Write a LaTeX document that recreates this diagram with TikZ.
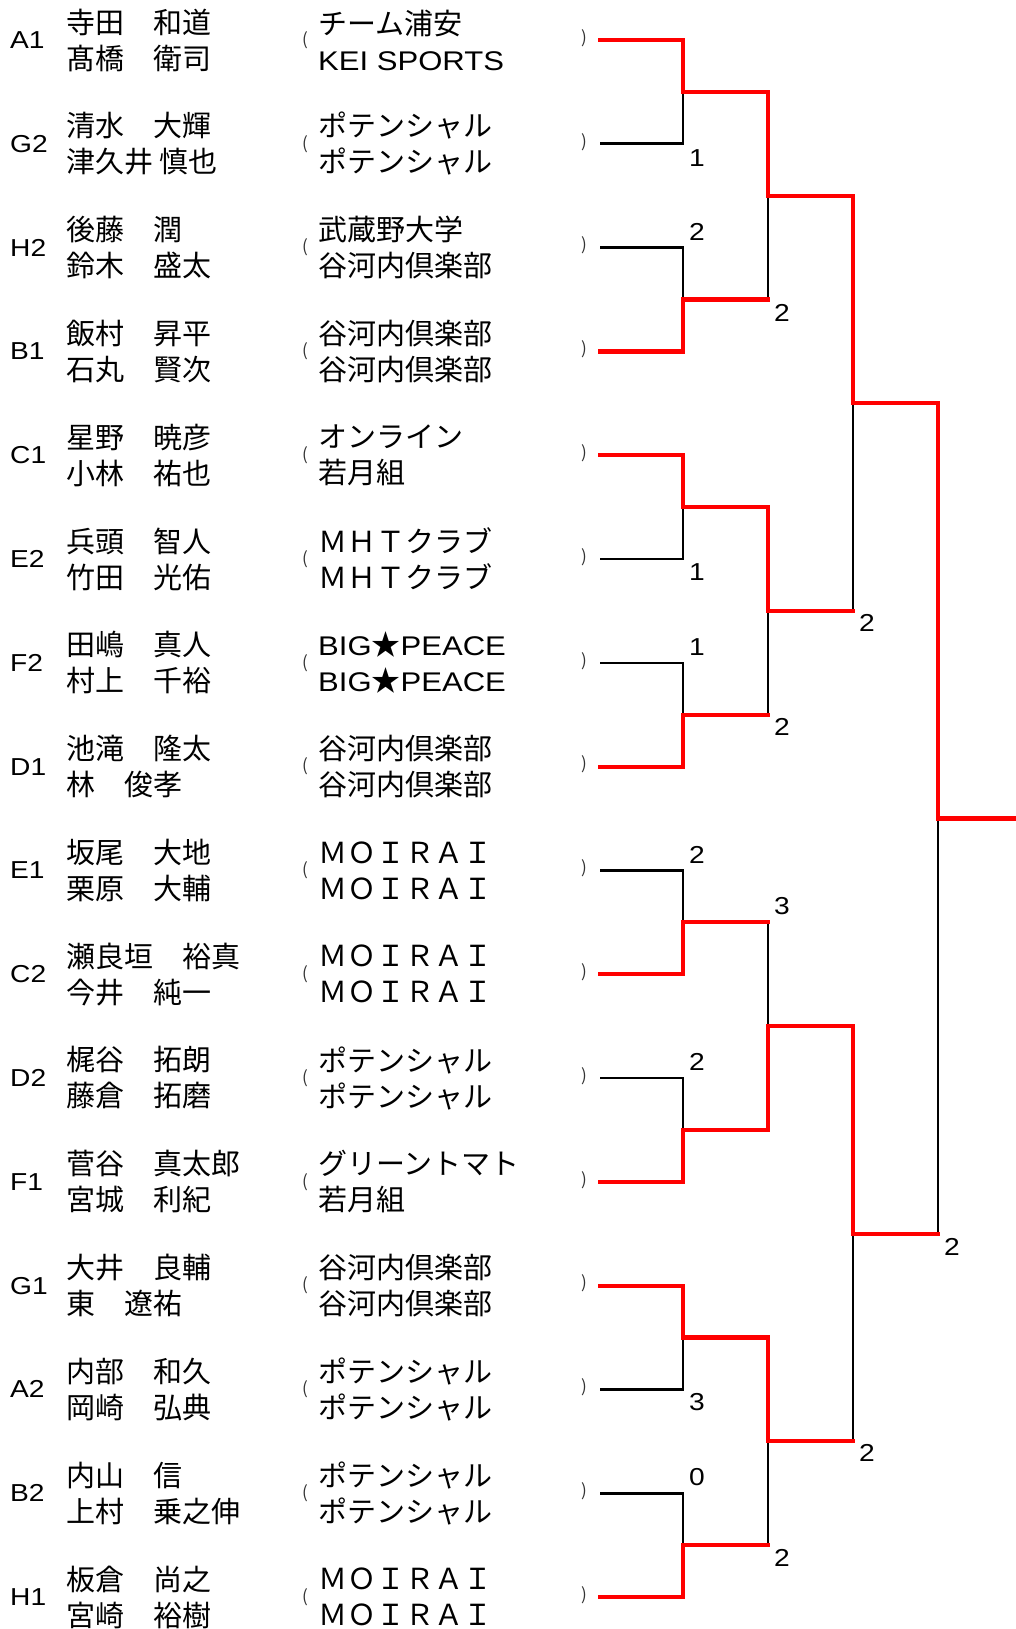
\documentclass[tikz,border=0pt]{standalone}
\usepackage{fontspec}
\setmainfont{Noto Sans CJK JP}
\newfontfamily\latin{Liberation Sans}[FakeStretch=1.15]
\usetikzlibrary{positioning}
\tikzset{
    seed/.style={anchor=west,inner sep=0pt,font=\latin\fontsize{24.5}{30}\selectfont},
    pair/.style={anchor=west,inner sep=0pt,align=left,font=\fontsize{29}{36}\selectfont},
    paren/.style={inner sep=0pt,font=\fontsize{17}{20}\selectfont,text=black!80},
    score/.style={inner sep=0pt,font=\latin\fontsize{24.5}{28}\selectfont},
    lost/.style={draw=black,line width=2.6pt},
    won/.style={draw=red,line width=4.2pt,line cap=rect},
  }
\newcommand{\lat}[1]{{\latin\fontsize{27}{36}\selectfont #1}}

\begin{document}
\begin{tikzpicture}[x=1pt,y=-1pt]
\useasboundingbox (0,0) rectangle (1015,1629);
		    % entrants: seed, names, team
		    \node[seed] (p1) at (10,40) {A1}; \node[pair] (n1) at (66,40) {寺田　和道\\髙橋　衛司}; \node[pair] (t1) at (318,40) {チーム浦安\\\lat{KEI SPORTS}};
		    \node[seed] (p2) at (10,143.8) {G2}; \node[pair] (n2) at (66,143.8) {清水　大輝\\津久井 慎也}; \node[pair] (t2) at (318,143.8) {ポテンシャル\\ポテンシャル};
		    \node[seed] (p3) at (10,247.6) {H2}; \node[pair] (n3) at (66,247.6) {後藤　潤\\鈴木　盛太}; \node[pair] (t3) at (318,247.6) {武蔵野大学\\谷河内倶楽部};
		    \node[seed] (p4) at (10,351.4) {B1}; \node[pair] (n4) at (66,351.4) {飯村　昇平\\石丸　賢次}; \node[pair] (t4) at (318,351.4) {谷河内倶楽部\\谷河内倶楽部};
		    \node[seed] (p5) at (10,455.2) {C1}; \node[pair] (n5) at (66,455.2) {星野　暁彦\\小林　祐也}; \node[pair] (t5) at (318,455.2) {オンライン\\若月組};
		    \node[seed] (p6) at (10,559) {E2}; \node[pair] (n6) at (66,559) {兵頭　智人\\竹田　光佑}; \node[pair] (t6) at (318,559) {ＭＨＴクラブ\\ＭＨＴクラブ};
		    \node[seed] (p7) at (10,662.8) {F2}; \node[pair] (n7) at (66,662.8) {田嶋　真人\\村上　千裕}; \node[pair] (t7) at (318,662.8) {\lat{BIG}★\lat{PEACE}\\\lat{BIG}★\lat{PEACE}};
		    \node[seed] (p8) at (10,766.6) {D1}; \node[pair] (n8) at (66,766.6) {池滝　隆太\\林　俊孝}; \node[pair] (t8) at (318,766.6) {谷河内倶楽部\\谷河内倶楽部};
		    \node[seed] (p9) at (10,870.4) {E1}; \node[pair] (n9) at (66,870.4) {坂尾　大地\\栗原　大輔}; \node[pair] (t9) at (318,870.4) {ＭＯＩＲＡＩ\\ＭＯＩＲＡＩ};
		    \node[seed] (p10) at (10,974.2) {C2}; \node[pair] (n10) at (66,974.2) {瀬良垣　裕真\\今井　純一}; \node[pair] (t10) at (318,974.2) {ＭＯＩＲＡＩ\\ＭＯＩＲＡＩ};
		    \node[seed] (p11) at (10,1078) {D2}; \node[pair] (n11) at (66,1078) {梶谷　拓朗\\藤倉　拓磨}; \node[pair] (t11) at (318,1078) {ポテンシャル\\ポテンシャル};
		    \node[seed] (p12) at (10,1181.8) {F1}; \node[pair] (n12) at (66,1181.8) {菅谷　真太郎\\宮城　利紀}; \node[pair] (t12) at (318,1181.8) {グリーントマト\\若月組};
		    \node[seed] (p13) at (10,1285.6) {G1}; \node[pair] (n13) at (66,1285.6) {大井　良輔\\東　遼祐}; \node[pair] (t13) at (318,1285.6) {谷河内倶楽部\\谷河内倶楽部};
		    \node[seed] (p14) at (10,1389.4) {A2}; \node[pair] (n14) at (66,1389.4) {内部　和久\\岡崎　弘典}; \node[pair] (t14) at (318,1389.4) {ポテンシャル\\ポテンシャル};
		    \node[seed] (p15) at (10,1493.2) {B2}; \node[pair] (n15) at (66,1493.2) {内山　信\\上村　乗之伸}; \node[pair] (t15) at (318,1493.2) {ポテンシャル\\ポテンシャル};
		    \node[seed] (p16) at (10,1597) {H1}; \node[pair] (n16) at (66,1597) {板倉　尚之\\宮崎　裕樹}; \node[pair] (t16) at (318,1597) {ＭＯＩＲＡＩ\\ＭＯＩＲＡＩ};
		    % brackets round the teams
		    \foreach \i/\y in {1/40,2/143.8,3/247.6,4/351.4,5/455.2,6/559,7/662.8,8/766.6,9/870.4,10/974.2,11/1078,12/1181.8,13/1285.6,14/1389.4,15/1493.2,16/1597}{
		      \node[paren] (o\i) at (305,\y) {(};
		      \node[paren] (c\i) at (584,\y-2) {)};
		      \coordinate (e\i) at (600,\y);
		    }
		    % joins of each round
		    \coordinate (a1) at (683,91.9); \coordinate (a2) at (683,299.5); \coordinate (a3) at (683,507.1); \coordinate (a4) at (683,714.7);
		    \coordinate (a5) at (683,922.3); \coordinate (a6) at (683,1129.9); \coordinate (a7) at (683,1337.5); \coordinate (a8) at (683,1545.1);
		    \coordinate (b1) at (768,195.7); \coordinate (b2) at (768,610.9); \coordinate (b3) at (768,1026.1); \coordinate (b4) at (768,1441.3);
		    \coordinate (q1) at (853,403.3); \coordinate (q2) at (853,1233.7);
		    \coordinate (fin) at (938,818.5); \coordinate (champ) at (1017,818.5);
		    % losing lines
		    \draw[lost] (e2) -| (a1); \draw[lost] (e3) -| (a2); \draw[lost] (e6) -| (a3); \draw[lost] (e7) -| (a4);
		    \draw[lost] (e9) -| (a5); \draw[lost] (e11) -| (a6); \draw[lost] (e14) -| (a7); \draw[lost] (e15) -| (a8);
		    \draw[lost] (a2) -| (b1); \draw[lost] (a4) -| (b2); \draw[lost] (a5) -| (b3); \draw[lost] (a8) -| (b4);
		    \draw[lost] (b2) -| (q1); \draw[lost] (b4) -| (q2);
		    \draw[lost] (q2) -| (fin);
		    % winning lines
		    \draw[won] (e1) -| (a1) -| (b1) -| (q1) -| (fin) -- (champ);
		    \draw[won] (e4) -| (a2) -- (a2 -| b1);
		    \draw[won] (e5) -| (a3) -| (b2) -- (b2 -| q1);
		    \draw[won] (e8) -| (a4) -- (a4 -| b2);
		    \draw[won] (e10) -| (a5) -- (a5 -| b3);
		    \draw[won] (e12) -| (a6) -| (b3) -| (q2) -- (q2 -| fin);
		    \draw[won] (e13) -| (a7) -| (b4) -- (b4 -| q2);
		    \draw[won] (e16) -| (a8) -- (a8 -| b4);
		    % scores
		    \node[score] (s1) at (697,158) {1}; \node[score] (s2) at (697,232) {2};
		    \node[score] (s3) at (697,572) {1}; \node[score] (s4) at (697,647) {1};
		    \node[score] (s5) at (697,855) {2}; \node[score] (s6) at (697,1062) {2};
		    \node[score] (s7) at (697,1402) {3}; \node[score] (s8) at (697,1477) {0};
		    \node[score] (s9) at (782,313) {2}; \node[score] (s10) at (782,727) {2};
		    \node[score] (s11) at (782,906) {3}; \node[score] (s12) at (782,1558) {2};
		    \node[score] (s13) at (867,623) {2}; \node[score] (s14) at (867,1453) {2};
		    \node[score] (s15) at (952,1247) {2};
			\end{tikzpicture}
\end{document}
